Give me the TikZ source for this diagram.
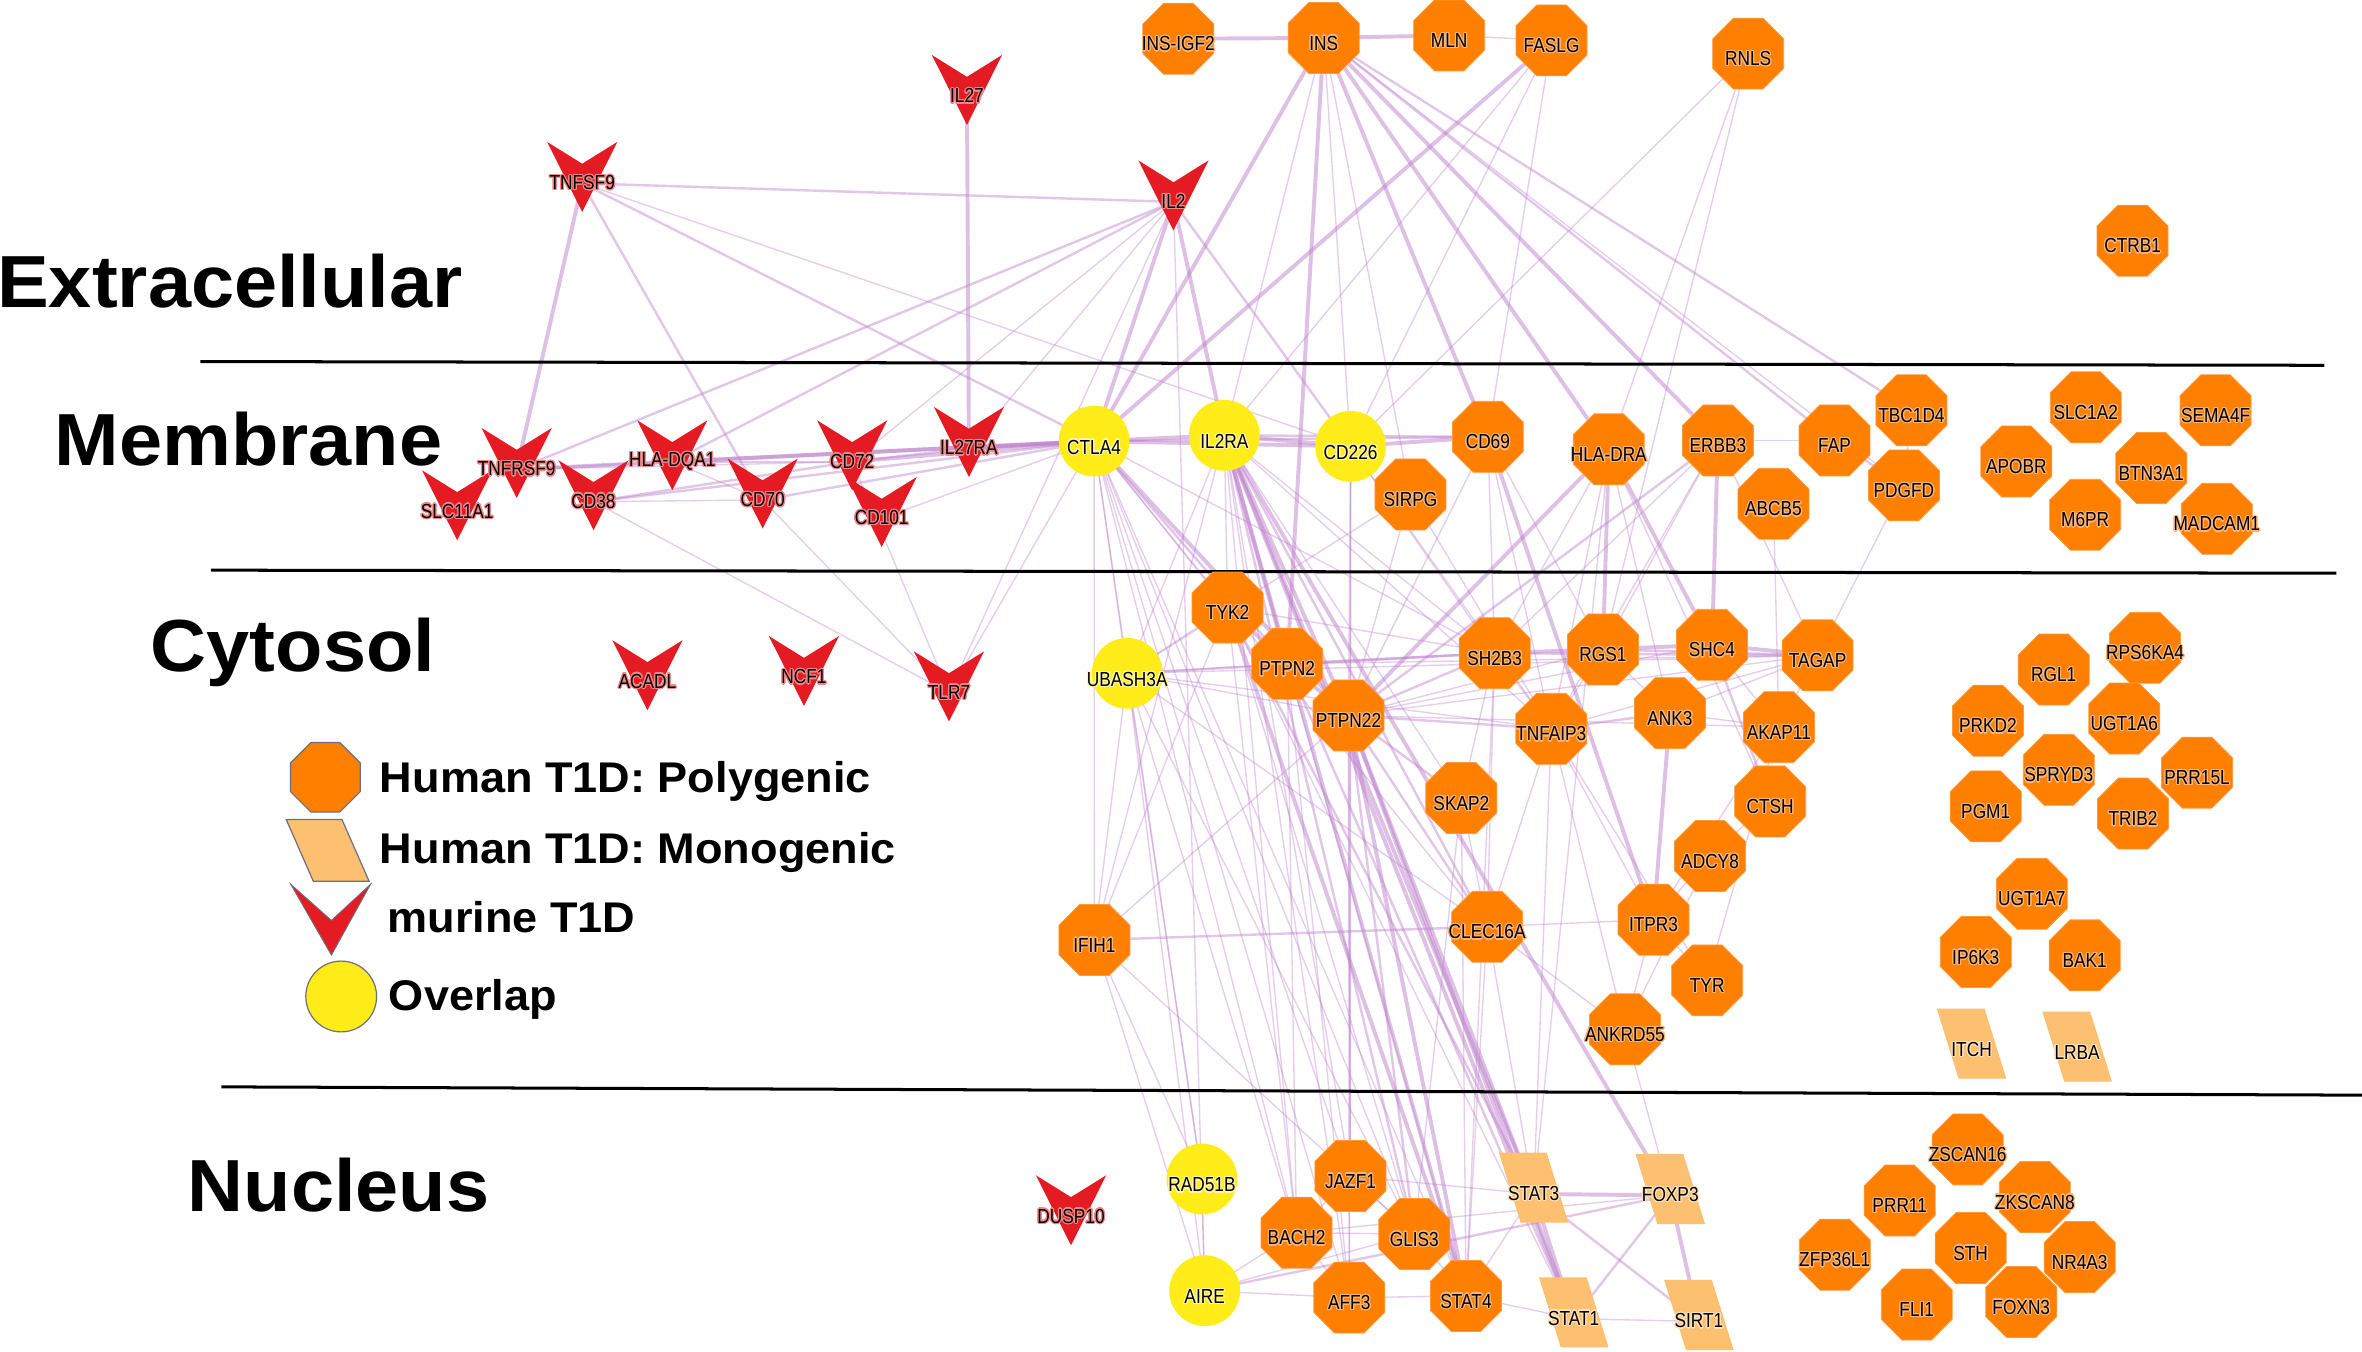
\documentclass[tikz,border=0pt]{standalone}
\usepackage{fontspec}
\setmainfont{Liberation Sans}
\newfontfamily\nodefont[FakeStretch=0.85]{Liberation Sans}
\newfontfamily\bigfont[FakeStretch=1.05]{Liberation Sans}
\usepackage{contour}
\contourlength{0.8pt}
\contournumber{16}
\usetikzlibrary{shapes.geometric}
\pgfdeclarelayer{background}
\pgfsetlayers{background,main}
\definecolor{poly}{RGB}{255,127,0}
\definecolor{polyedge}{RGB}{255,155,60}
\definecolor{polyhalo}{RGB}{250,182,122}
\definecolor{mono}{RGB}{253,192,112}
\definecolor{monohalo}{RGB}{255,226,185}
\definecolor{murine}{RGB}{228,27,35}
\definecolor{murinehalo}{RGB}{242,135,135}
\definecolor{overlap}{RGB}{255,236,25}
\definecolor{overlaphalo}{RGB}{255,247,165}
\definecolor{ecol}{RGB}{190,130,205}
\definecolor{leggray}{RGB}{110,110,130}
\tikzset{
  nlab/.style={font=\nodefont\fontsize{13.5}{14}\selectfont, inner sep=0pt, text=black},
  octo/.style={regular polygon, regular polygon sides=8, minimum size=51pt, inner sep=0pt, fill=poly, draw=polyedge, line width=0.5pt},
  ovl/.style={circle, minimum size=47pt, inner sep=0pt, fill=overlap},
  bigtext/.style={font=\bigfont\bfseries\fontsize{49}{50}\selectfont, inner sep=0pt, anchor=base west},
  legtext/.style={font=\bigfont\bfseries\fontsize{28.5}{30}\selectfont, inner sep=0pt, anchor=base west},
  sepline/.style={draw=black, line width=2pt},
  ethick/.style={draw=ecol, line width=2.6pt, opacity=0.5},
  emed/.style={draw=ecol, line width=1.6pt, opacity=0.45},
  ethin/.style={draw=ecol, line width=0.9pt, opacity=0.4}
}
\newcommand{\mkoct}[4]{\node[octo,label={[nlab,yshift=-3.8pt]center:\contour{polyhalo}{#2}}] (#1) at (#3,#4) {};}
\newcommand{\mkcirc}[4]{\node[ovl,label={[nlab,yshift=-4.4pt]center:\contour{overlaphalo}{#2}}] (#1) at (#3,#4) {};}
\newcommand{\mkpar}[4]{\fill[mono] (#3-23.1,#4-23.3) -- (#3+8.6,#4-23.3) -- (#3+23.1,#4+23.3) -- (#3-8.6,#4+23.3) -- cycle;
  \node[nlab] (#1) at (#3,#4+4.2) {\contour{monohalo}{#2}};}
\newcommand{\mkchev}[4]{\fill[murine] (#3-23.3,#4-27.5) -- (#3,#4-13) -- (#3+23.3,#4-27.5) -- (#3,#4+19) -- cycle;
  \node[nlab] (#1) at (#3,#4) {\contour{murinehalo}{#2}};}
\begin{document}
\begin{tikzpicture}[x=1pt,y=-1pt]
\useasboundingbox (0,0) rectangle (1568,897.5);

% region labels
\node[bigtext] (tExtra) at (-2,204) {Extracellular};
\node[bigtext] (tMemb) at (36,309) {Membrane};
\node[bigtext] (tCyto) at (100,446) {Cytosol};
\node[bigtext] (tNucl) at (124.5,804) {Nucleus};

% separators
\draw[sepline] (133,240) -- (1543,242.5);
\draw[sepline] (140,378.5) -- (1551,380.5);
\draw[sepline] (147,721.5) -- (1568,727);

% legend
\node[octo, draw=leggray, line width=0.8pt, minimum size=50pt] (legPoly) at (216,516) {};
\filldraw[fill=mono, draw=leggray, line width=0.8pt] (190,544) -- (227,544) -- (245,585) -- (208,585) -- cycle;
\filldraw[fill=murine, draw=leggray, line width=0.6pt] (193,587) -- (220,611) -- (246,587) -- (220,634) -- cycle;
\node[ovl, draw=leggray, line width=0.8pt] (legOvl) at (226.5,661.5) {};
\node[legtext] (legT1) at (252,526) {Human T1D: Polygenic};
\node[legtext] (legT2) at (252,573) {Human T1D: Monogenic};
\node[legtext] (legT3) at (257,619) {murine T1D};
\node[legtext] (legT4) at (258,671) {Overlap};

% murine nodes
\mkchev{TNFSF9}{TNFSF9}{386.5}{121.7}
\mkchev{IL27}{IL27}{641.9}{64}
\mkchev{IL2}{IL2}{779}{134}
\mkchev{SLCA}{SLC11A1}{303.5}{339.7}
\mkchev{TNFRSF9}{TNFRSF9}{343}{311.6}
\mkchev{HLADQA1}{HLA-DQA1}{446.3}{306.5}
\mkchev{CD38}{CD38}{394}{333}
\mkchev{CD70}{CD70}{506.3}{331.9}
\mkchev{CD72}{CD72}{565.7}{306.5}
\mkchev{CD101}{CD101}{585.3}{344.1}
\mkchev{IL27RA}{IL27RA}{643.2}{297.6}
\mkchev{ACADL}{ACADL}{429.8}{452.5}
\mkchev{NCF1}{NCF1}{533.7}{449.7}
\mkchev{TLR7}{TLR7}{630}{459.9}
\mkchev{DUSP10}{DUSP10}{711}{807.7}

% overlap nodes
\mkcirc{CTLA4}{CTLA4}{726.3}{292.8}
\mkcirc{IL2RA}{IL2RA}{812.8}{289}
\mkcirc{CD226}{CD226}{896.6}{296.3}
\mkcirc{UBASH3A}{UBASH3A}{748.3}{447}
\mkcirc{RAD51B}{RAD51B}{797.9}{782.7}
\mkcirc{AIRE}{AIRE}{799.7}{856.8}

% monogenic nodes
\mkpar{STAT3}{STAT3}{1018.1}{788.4}
\mkpar{FOXP3}{FOXP3}{1108.8}{789.3}
\mkpar{STAT1}{STAT1}{1044.7}{871.2}
\mkpar{SIRT1}{SIRT1}{1127.8}{873}
\mkpar{ITCH}{ITCH}{1308.8}{692.8}
\mkpar{LRBA}{LRBA}{1378.9}{694.8}

% polygenic nodes
\mkoct{INSIGF2}{INS-IGF2}{782.2}{25.7}
\mkoct{INS}{INS}{878.7}{25.2}
\mkoct{MLN}{MLN}{962}{23.5}
\mkoct{FASLG}{FASLG}{1030}{26.8}
\mkoct{RNLS}{RNLS}{1160.5}{35.6}
\mkoct{CTRB1}{CTRB1}{1415.7}{159.8}
\mkoct{CD69}{CD69}{987.7}{290}
\mkoct{HLADRA}{HLA-DRA}{1068}{298.3}
\mkoct{ERBB3}{ERBB3}{1140.4}{292.4}
\mkoct{FAP}{FAP}{1217.8}{292.4}
\mkoct{TBC1D4}{TBC1D4}{1268.9}{272.4}
\mkoct{SLC1A2}{SLC1A2}{1384.6}{270.4}
\mkoct{SEMA4F}{SEMA4F}{1470.8}{272.4}
\mkoct{SIRPG}{SIRPG}{936.3}{328.2}
\mkoct{ABCB5}{ABCB5}{1177.3}{334.4}
\mkoct{PDGFD}{PDGFD}{1263.9}{322.2}
\mkoct{APOBR}{APOBR}{1338.5}{306.3}
\mkoct{BTN3A1}{BTN3A1}{1428.1}{310.7}
\mkoct{M6PR}{M6PR}{1384.2}{341.7}
\mkoct{MADCAM1}{MADCAM1}{1471.6}{344.4}
\mkoct{TYK2}{TYK2}{814.9}{403.3}
\mkoct{PTPN2}{PTPN2}{854.5}{440.6}
\mkoct{PTPN22}{PTPN22}{895.2}{474.9}
\mkoct{SH2B3}{SH2B3}{992.2}{433.6}
\mkoct{RGS1}{RGS1}{1064.1}{431.1}
\mkoct{SHC4}{SHC4}{1136.5}{428}
\mkoct{TAGAP}{TAGAP}{1206.6}{435}
\mkoct{TNFAIP3}{TNFAIP3}{1029.8}{483.8}
\mkoct{ANK3}{ANK3}{1108.6}{473.4}
\mkoct{AKAP11}{AKAP11}{1180.9}{482.7}
\mkoct{SKAP2}{SKAP2}{970.1}{529.8}
\mkoct{CTSH}{CTSH}{1175.1}{532}
\mkoct{ADCY8}{ADCY8}{1135.2}{568.3}
\mkoct{IFIH1}{IFIH1}{726.5}{624}
\mkoct{CLEC16A}{CLEC16A}{987.2}{615.2}
\mkoct{ITPR3}{ITPR3}{1097.7}{610.5}
\mkoct{TYR}{TYR}{1133.3}{650.8}
\mkoct{ANKRD55}{ANKRD55}{1078.7}{683.3}
\mkoct{RGL1}{RGL1}{1363.3}{444.5}
\mkoct{RPS6KA4}{RPS6KA4}{1424}{430}
\mkoct{PRKD2}{PRKD2}{1319.7}{478.4}
\mkoct{UGT1A6}{UGT1A6}{1410.2}{477}
\mkoct{SPRYD3}{SPRYD3}{1366.7}{511}
\mkoct{PRR15L}{PRR15L}{1458.5}{512.9}
\mkoct{PGM1}{PGM1}{1318.2}{535.3}
\mkoct{TRIB2}{TRIB2}{1416}{540.1}
\mkoct{UGT1A7}{UGT1A7}{1348.8}{593.3}
\mkoct{IP6K3}{IP6K3}{1311.6}{632}
\mkoct{BAK1}{BAK1}{1383.9}{634.2}
\mkoct{JAZF1}{JAZF1}{896.5}{780.7}
\mkoct{BACH2}{BACH2}{860.7}{818.3}
\mkoct{GLIS3}{GLIS3}{938.9}{819.2}
\mkoct{AFF3}{AFF3}{895.7}{861.4}
\mkoct{STAT4}{STAT4}{973.2}{860.3}
\mkoct{ZSCAN16}{ZSCAN16}{1306.2}{763}
\mkoct{PRR11}{PRR11}{1261.1}{797}
\mkoct{ZKSCAN8}{ZKSCAN8}{1350.8}{794.6}
\mkoct{ZFP36L1}{ZFP36L1}{1218}{832.9}
\mkoct{STH}{STH}{1308.2}{828.5}
\mkoct{NR4A3}{NR4A3}{1380.6}{834.5}
\mkoct{FLI1}{FLI1}{1272.4}{866}
\mkoct{FOXN3}{FOXN3}{1341.8}{864.3}

\begin{pgfonlayer}{background}
\fill[white] (0,0) rectangle (1568,897.5);
\foreach \a/\b in {TNFSF9/TNFRSF9, IL27/IL27RA, IL2/CTLA4, IL2/IL2RA, INSIGF2/INS, INS/MLN, INS/CTLA4, INS/PTPN2, INS/CD69, INS/HLADRA, INS/ERBB3, FASLG/CTLA4, TNFRSF9/CTLA4, HLADQA1/CTLA4, CD72/CTLA4, IL27RA/CTLA4, CTLA4/IL2RA, CTLA4/CD226, IL2RA/CD226, CD226/CD69, CTLA4/PTPN22, IL2RA/PTPN2, IL2RA/PTPN22, IL2RA/STAT3, IL2RA/STAT1, IL2RA/FOXP3, IL2RA/STAT4, CD69/ITPR3, HLADRA/PTPN22, HLADRA/RGS1, HLADRA/SHC4, ERBB3/SHC4, TYK2/PTPN2, TYK2/STAT4, PTPN2/PTPN22, PTPN22/STAT3, PTPN22/STAT4, PTPN22/STAT1, SH2B3/RGS1, RGS1/SHC4, SHC4/TAGAP, ANK3/ITPR3, STAT3/FOXP3, STAT3/STAT1, FOXP3/SIRT1}
  \draw[ethick] (\a.center) -- (\b.center);
\foreach \a/\b in {TNFSF9/IL2, TNFSF9/CD70, TNFSF9/CTLA4, IL2/TNFRSF9, IL2/HLADQA1, IL2/CD226, INS/TBC1D4, INS/FAP, FAP/PDGFD, TNFRSF9/HLADQA1, CD38/CTLA4, CD70/CTLA4, CD72/IL27RA, IL2RA/CD69, CTLA4/CD69, CD38/CD72, HLADQA1/CD72, CTLA4/PTPN2, PTPN22/GLIS3, PTPN22/CLEC16A, PTPN22/SKAP2, PTPN22/SH2B3, PTPN22/TNFAIP3, PTPN2/SH2B3, UBASH3A/SH2B3, IFIH1/CLEC16A, ERBB3/PTPN22, SHC4/CTSH, TNFAIP3/ANK3, RGS1/TAGAP, SH2B3/TAGAP, AIRE/FOXP3, STAT3/SIRT1, FOXP3/STAT1, IL2RA/GLIS3, IL2RA/CLEC16A, TYK2/STAT3, PTPN2/STAT1}
  \draw[emed] (\a.center) -- (\b.center);
\foreach \a/\b in {TNFSF9/CD226, IL2/CD72, IL2/IL27RA, IL2/AIRE, IL2/TLR7, MLN/FASLG, INS/IL2RA, INS/CD226, INS/PDGFD, INS/SIRPG, FASLG/IL2RA, FASLG/CD69, FASLG/CD226, RNLS/CD226, RNLS/HLADRA, RNLS/RGS1, TNFRSF9/CD72, CD38/CD70, CD38/TLR7, CD70/TLR7, CD72/TLR7, CD101/CTLA4, CTLA4/TLR7, HLADQA1/CD70, CTLA4/UBASH3A, CTLA4/IFIH1, CTLA4/TYK2, CTLA4/BACH2, CTLA4/JAZF1, CTLA4/GLIS3, CTLA4/STAT4, CTLA4/SH2B3, CTLA4/RAD51B, CTLA4/AFF3, CTLA4/CLEC16A, IL2RA/TYK2, IL2RA/UBASH3A, IL2RA/IFIH1, IL2RA/BACH2, IL2RA/JAZF1, IL2RA/SH2B3, IL2RA/SKAP2, IL2RA/TNFAIP3, IL2RA/AFF3, CD226/PTPN22, CD226/SH2B3, CD226/JAZF1, CD226/AFF3, CD226/TNFAIP3, SIRPG/PTPN22, SIRPG/TNFAIP3, SIRPG/UBASH3A, CD69/SH2B3, CD69/TNFAIP3, CD69/RGS1, CD69/PTPN22, HLADRA/SH2B3, HLADRA/TNFAIP3, HLADRA/CTSH, HLADRA/ANK3, HLADRA/STAT3, ERBB3/SH2B3, ERBB3/TAGAP, ERBB3/FAP, ERBB3/RGS1, ERBB3/TNFAIP3, ABCB5/AKAP11, PDGFD/TAGAP, TBC1D4/PDGFD, TYK2/IFIH1, TYK2/UBASH3A, TYK2/SH2B3, TYK2/BACH2, TYK2/GLIS3, TYK2/STAT1, PTPN2/STAT4, PTPN2/UBASH3A, PTPN2/TAGAP, PTPN2/AFF3, PTPN2/BACH2, PTPN22/RGS1, PTPN22/SHC4, PTPN22/TAGAP, PTPN22/AKAP11, PTPN22/UBASH3A, PTPN22/AFF3, PTPN22/JAZF1, PTPN22/IFIH1, UBASH3A/TNFAIP3, UBASH3A/TAGAP, UBASH3A/IFIH1, UBASH3A/AIRE, UBASH3A/BACH2, UBASH3A/RAD51B, UBASH3A/GLIS3, UBASH3A/CLEC16A, SH2B3/SKAP2, SH2B3/TNFAIP3, SH2B3/CLEC16A, SH2B3/STAT4, RGS1/TNFAIP3, RGS1/ANK3, SHC4/ANK3, SHC4/AKAP11, TNFAIP3/ANKRD55, TNFAIP3/ITPR3, TNFAIP3/TAGAP, TNFAIP3/STAT3, TNFAIP3/CLEC16A, TNFAIP3/TYR, ANK3/AKAP11, ANK3/TAGAP, AKAP11/TAGAP, AKAP11/TYR, AKAP11/ITPR3, CTSH/ADCY8, ADCY8/ITPR3, ADCY8/ANKRD55, ITPR3/TYR, ITPR3/ANKRD55, CLEC16A/ITPR3, CLEC16A/STAT4, CLEC16A/STAT3, CLEC16A/ANKRD55, SKAP2/STAT4, SKAP2/GLIS3, SKAP2/CLEC16A, ANKRD55/FOXP3, STAT1/SIRT1, STAT4/STAT1, STAT4/STAT3, AIRE/AFF3, AFF3/STAT4, RAD51B/AIRE, BACH2/GLIS3, JAZF1/BACH2, JAZF1/GLIS3, BACH2/AFF3, GLIS3/STAT4, AIRE/BACH2, AIRE/GLIS3, JAZF1/STAT3, BACH2/FOXP3, IFIH1/RAD51B, IFIH1/GLIS3, IFIH1/AIRE}
  \draw[ethin] (\a.center) -- (\b.center);
\end{pgfonlayer}
\end{tikzpicture}
\end{document}
